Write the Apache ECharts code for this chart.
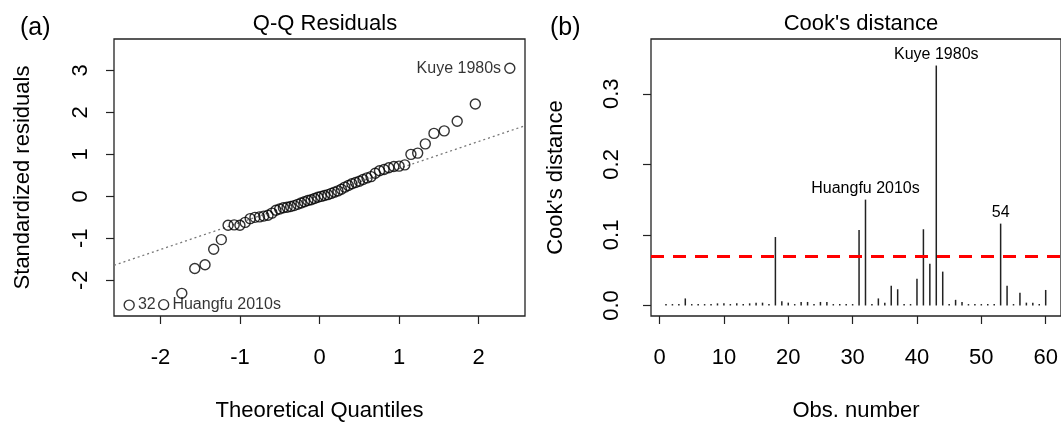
<!DOCTYPE html>
<html>
<head>
<meta charset="utf-8">
<script src="https://cdn.jsdelivr.net/npm/echarts@6/dist/echarts.min.js"></script>
<style>
  html, body { margin: 0; padding: 0; background: #fff; }
  #chart { width: 1061px; height: 427px; }
</style>
</head>
<body>
<div id="chart"></div>
<script>
// panel (a): normal Q-Q of standardized residuals
const qqTheoretical = [
  -2.394, -1.960, -1.732, -1.569, -1.440, -1.331, -1.235, -1.150, -1.073, -1.001,
  -0.935, -0.872, -0.812, -0.755, -0.701, -0.648, -0.598, -0.548, -0.501, -0.454,
  -0.408, -0.363, -0.319, -0.275, -0.232, -0.189, -0.147, -0.105, -0.063, -0.021,
  0.021, 0.063, 0.105, 0.147, 0.189, 0.232, 0.275, 0.319, 0.363, 0.408,
  0.454, 0.501, 0.548, 0.598, 0.648, 0.701, 0.755, 0.812, 0.872, 0.935,
  1.001, 1.073, 1.150, 1.235, 1.331, 1.440, 1.569, 1.732, 1.960, 2.394
];
const qqResiduals = [
  -2.59, -2.58, -2.31, -1.72, -1.63, -1.26, -1.03, -0.69, -0.68, -0.69,
  -0.62, -0.53, -0.50, -0.49, -0.47, -0.45, -0.40, -0.33, -0.30, -0.27,
  -0.26, -0.24, -0.22, -0.19, -0.16, -0.13, -0.10, -0.08, -0.05, -0.02,
  0.00, 0.02, 0.04, 0.07, 0.10, 0.13, 0.17, 0.22, 0.26, 0.30,
  0.33, 0.36, 0.40, 0.44, 0.47, 0.55, 0.61, 0.64, 0.68, 0.71,
  0.72, 0.75, 1.00, 1.03, 1.25, 1.50, 1.56, 1.79, 2.20, 3.05
];
// point index -> label, and which side the label sits on
const qqLabels = { 0: ['32', 'right'], 1: ['Huangfu 2010s', 'right'], 59: ['Kuye 1980s', 'left'] };
const qqLineIntercept = 0.02;
const qqLineSlope = 0.643;
const qqXTicks = [-2, -1, 0, 1, 2];
const qqYTicks = [-2, -1, 0, 1, 2, 3];

// panel (b): Cook's distance by observation (obs 1..60)
const cookDistance = [
  0.002, 0.002, 0.002, 0.010, 0.002, 0.002, 0.002, 0.002, 0.003, 0.003,
  0.002, 0.003, 0.002, 0.003, 0.004, 0.004, 0.002, 0.097, 0.006, 0.004,
  0.002, 0.005, 0.005, 0.002, 0.005, 0.005, 0.002, 0.002, 0.002, 0.002,
  0.107, 0.150, 0.002, 0.010, 0.004, 0.028, 0.023, 0.002, 0.002, 0.038,
  0.108, 0.059, 0.340, 0.048, 0.002, 0.008, 0.005, 0.002, 0.002, 0.002,
  0.002, 0.002, 0.116, 0.028, 0.002, 0.018, 0.004, 0.004, 0.002, 0.022
];
const cookLabels = { 32: 'Huangfu 2010s', 43: 'Kuye 1980s', 53: '54' };
const cookCutoff = 0.069;
const cookXTicks = [0, 10, 20, 30, 40, 50, 60];
const cookYTicks = [0, 0.1, 0.2, 0.3];

const FONT = '"Liberation Sans", Arial, Helvetica, sans-serif';
const INK = '#222';
const FS = 22;

const qqX = { min: -2.585, max: 2.585 };
const qqY = { min: -2.85, max: 3.748 };

const qqData = qqTheoretical.map((x, i) => {
  const item = { value: [x, qqResiduals[i]] };
  if (qqLabels[i]) {
    item.label = {
      show: true,
      formatter: qqLabels[i][0],
      position: qqLabels[i][1],
      distance: 3
    };
  }
  return item;
});

const cookData = cookDistance.map((v, i) => [i + 1, v]);

const axisTick = { show: true, inside: false, length: 8, lineStyle: { color: INK, width: 1.2 } };

const baseX = (grid, ticks, range, name) => ({
  type: 'value',
  gridIndex: grid,
  min: range.min,
  max: range.max,
  name: name,
  nameLocation: 'middle',
  nameGap: 84,
  nameTextStyle: { fontFamily: FONT, fontSize: FS, color: '#000' },
  axisLine: { show: false, onZero: false },
  splitLine: { show: false },
  axisTick: Object.assign({ customValues: ticks }, axisTick),
  axisLabel: {
    customValues: ticks,
    margin: 31,
    fontFamily: FONT, fontSize: FS, color: '#000'
  }
});

const baseY = (grid, ticks, range, name, gap, margin, fmt) => ({
  type: 'value',
  gridIndex: grid,
  min: range.min,
  max: range.max,
  name: name,
  nameLocation: 'middle',
  nameGap: gap,
  nameTextStyle: { fontFamily: FONT, fontSize: FS, color: '#000' },
  axisLine: { show: false, onZero: false },
  splitLine: { show: false },
  axisTick: Object.assign({ customValues: ticks }, axisTick),
  axisLabel: {
    customValues: ticks,
    rotate: 90,
    margin: margin,
    formatter: fmt,
    fontFamily: FONT, fontSize: FS, color: '#000'
  }
});

const chart = echarts.init(document.getElementById('chart'), null, { renderer: 'canvas' });

const option = {
  animation: false,
  backgroundColor: '#fff',
  title: [
    { text: 'Q-Q Residuals', left: 320, top: 8, textAlign: 'center',
      textStyle: { fontFamily: FONT, fontSize: FS, fontWeight: 'normal', color: '#000' } },
    { text: "Cook's distance", left: 856, top: 8, textAlign: 'center',
      textStyle: { fontFamily: FONT, fontSize: FS, fontWeight: 'normal', color: '#000' } },
    { text: '(a)', left: 15, top: 11,
      textStyle: { fontFamily: FONT, fontSize: 25, fontWeight: 'normal', color: '#000' } },
    { text: '(b)', left: 545, top: 11,
      textStyle: { fontFamily: FONT, fontSize: 25, fontWeight: 'normal', color: '#000' } }
  ],
  grid: [
    { left: 114, top: 39, width: 411, height: 283, show: true,
      borderColor: INK, borderWidth: 1.3, backgroundColor: '#fff' },
    { left: 651, top: 39, width: 411, height: 283, show: true,
      borderColor: INK, borderWidth: 1.3, backgroundColor: '#fff' }
  ],
  xAxis: [
    baseX(0, qqXTicks, qqX, 'Theoretical Quantiles'),
    baseX(1, cookXTicks, { min: -1.33, max: 62.38 }, 'Obs. number')
  ],
  yAxis: [
    baseY(0, qqYTicks, qqY, 'Standardized residuals', 80, 22, v => String(v)),
    baseY(1, cookYTicks, { min: -0.0149, max: 0.3776 }, "Cook's distance", 84, 28, v => v.toFixed(1))
  ],
  series: [
    {
      // dotted reference line through the quartiles
      type: 'line',
      xAxisIndex: 0, yAxisIndex: 0,
      data: [
        [qqX.min, qqLineIntercept + qqLineSlope * qqX.min],
        [qqX.max, qqLineIntercept + qqLineSlope * qqX.max]
      ],
      symbol: 'none',
      silent: true,
      lineStyle: { color: '#777', width: 1.3, type: [2, 3] },
      z: 1
    },
    {
      type: 'scatter',
      xAxisIndex: 0, yAxisIndex: 0,
      data: qqData,
      symbol: 'circle',
      symbolSize: 10,
      itemStyle: { color: 'transparent', borderColor: '#000', borderWidth: 1.4 },
      label: { fontFamily: FONT, fontSize: 16, color: '#000' },
      z: 2
    },
    {
      type: 'custom',
      xAxisIndex: 1, yAxisIndex: 1,
      data: cookData,
      encode: { x: 0, y: 1 },
      clip: true,
      renderItem: (params, api) => {
        const obs = api.value(0);
        const base = api.coord([obs, 0]);
        const top = api.coord([obs, api.value(1)]);
        const children = [{
          type: 'line',
          shape: { x1: base[0], y1: base[1], x2: top[0], y2: top[1] },
          style: { stroke: INK, lineWidth: 1.5 }
        }];
        if (cookLabels[obs]) {
          children.push({
            type: 'text',
            style: {
              text: cookLabels[obs],
              x: top[0], y: top[1] - 3,
              align: 'center', verticalAlign: 'bottom',
              font: '16px ' + FONT, fill: '#000'
            }
          });
        }
        return { type: 'group', children: children };
      },
      markLine: {
        silent: true,
        symbol: 'none',
        label: { show: false },
        lineStyle: { color: '#ff0000', width: 3, type: [13, 9] },
        data: [{ yAxis: cookCutoff }]
      }
    }
  ]
};

chart.setOption(option);
</script>
</body>
</html>
